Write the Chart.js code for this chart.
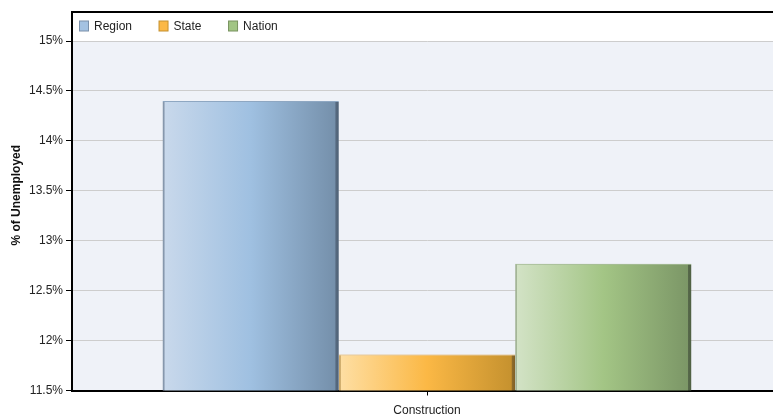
<!DOCTYPE html>
<html>
<head>
<meta charset="utf-8">
<script src="https://cdn.jsdelivr.net/npm/chart.js@4/dist/chart.umd.min.js"></script>
<style>
  html, body { margin: 0; padding: 0; overflow: hidden; background: #fff; }
  canvas { display: block; }
</style>
</head>
<body>
<canvas id="chart" width="782" height="415"></canvas>
<script>
// ---- data ----
const categories = ['Construction'];
const seriesNames = ['Region', 'State', 'Nation'];
const regionValues = [14.4];
const stateValues = [11.86];
const nationValues = [12.77];
const yTickValues = [11.5, 12, 12.5, 13, 13.5, 14, 14.5, 15];
const yAxisTitle = '% of Unemployed';

// ---- styles ----
const SANS = "'Liberation Sans', Arial, sans-serif";
const TEXT = '#222222';
const CAT_PCT = 0.745;

// horizontal shading for each series (edge, light, mid, dark, edge)
const regionStops = [[0, '#7f90a5'], [0.01, '#8c9db2'], [0.013, '#c8d8eb'], [0.5, '#9fc0e1'], [0.978, '#7590ab'], [0.983, '#56697f'], [1, '#4f6277']];
const stateStops  = [[0, '#c9a66a'], [0.01, '#d2b070'], [0.013, '#fedea2'], [0.5, '#fbb845'], [0.978, '#c6922f'], [0.983, '#8e6c2c'], [1, '#806028']];
const nationStops = [[0, '#9aac8d'], [0.01, '#a7b99a'], [0.013, '#d2e2c5'], [0.5, '#a3c585'], [0.978, '#7c9767'], [0.983, '#56684a'], [1, '#4e6043']];
const legendFills   = ['#a4c2e2', '#fbb845', '#a2c584'];
const legendStrokes = ['#7a90aa', '#c4902e', '#78925f'];
const topEdges      = ['#8ea7c2', '#d9a24a', '#8faa78'];

function barFill(stops, flat) {
  return (ctx) => {
    const chart = ctx.chart;
    const area = chart.chartArea;
    const xs = chart.scales && chart.scales.x;
    if (ctx.type !== 'data' || !area || !xs) return flat;
    const catW = (area.right - area.left) / categories.length;
    const groupW = catW * CAT_PCT;
    const barW = groupW / chart.data.datasets.length;
    const center = xs.getPixelForValue(ctx.dataIndex);
    const left = center - groupW / 2 + ctx.datasetIndex * barW;
    const g = chart.ctx.createLinearGradient(left, 0, left + barW, 0);
    stops.forEach(([o, c]) => g.addColorStop(o, c));
    return g;
  };
}

// white framed panel with a legend strip above the plot area, plus the y-axis title
const framePlugin = {
  id: 'frame',
  beforeDraw(chart) {
    const { ctx, chartArea: a, width } = chart;
    ctx.save();
    ctx.fillStyle = '#ffffff';
    ctx.fillRect(0, 0, width, chart.height);
    ctx.fillStyle = '#eff2f8';
    ctx.fillRect(a.left, a.top, a.right - a.left, a.bottom - a.top);
    ctx.strokeStyle = '#000';
    ctx.lineWidth = 2;
    ctx.beginPath();
    ctx.moveTo(a.left - 1, 12);
    ctx.lineTo(width, 12);
    ctx.moveTo(a.left, 11);
    ctx.lineTo(a.left, a.top + 1);
    ctx.stroke();
    ctx.restore();
  },
  afterDraw(chart) {
    const { ctx, chartArea: a } = chart;
    ctx.save();
    ctx.font = '12px ' + SANS;
    ctx.textBaseline = 'middle';
    ctx.textAlign = 'left';
    let x = a.left + 7.5;
    const cy = 26;
    chart.data.datasets.forEach((ds, i) => {
      ctx.fillStyle = legendFills[i];
      ctx.fillRect(x, cy - 5, 9, 10);
      ctx.strokeStyle = legendStrokes[i];
      ctx.lineWidth = 1;
      ctx.strokeRect(x, cy - 5, 9, 10);
      ctx.fillStyle = TEXT;
      ctx.fillText(ds.label, x + 14.5, cy + 0.5);
      x += 14.5 + ctx.measureText(ds.label).width + 27;
    });
    // rotated y-axis title, centred on the panel height
    ctx.translate(17, a.bottom / 2);
    ctx.rotate(-Math.PI / 2);
    ctx.textAlign = 'center';
    ctx.font = 'bold 12px ' + SANS;
    ctx.fillStyle = '#111';
    ctx.fillText(yAxisTitle, 0, 0);
    ctx.restore();
  }
};

const seriesValues = [regionValues, stateValues, nationValues];
const seriesStops = [regionStops, stateStops, nationStops];

new Chart(document.getElementById('chart'), {
  type: 'bar',
  data: {
    labels: categories,
    datasets: seriesNames.map((name, i) => ({
      label: name,
      data: seriesValues[i],
      backgroundColor: barFill(seriesStops[i], legendFills[i]),
      borderColor: topEdges[i],
      borderWidth: { top: 1, left: 0, right: 0, bottom: 0 },
      categoryPercentage: CAT_PCT,
      barPercentage: 1.0
    }))
  },
  options: {
    responsive: false,
    animation: false,
    layout: { padding: { top: 41, right: 0, bottom: 0, left: 0 } },
    plugins: {
      legend: { display: false },
      tooltip: { enabled: false }
    },
    scales: {
      x: {
        afterFit: (s) => { s.height = 24.5; },
        grid: {
          offset: false,
          drawOnChartArea: false,
          drawTicks: true,
          tickLength: 5,
          tickColor: '#000'
        },
        border: { color: '#000', width: 2 },
        ticks: { color: TEXT, font: { family: SANS, size: 12 }, padding: 8, maxRotation: 0 }
      },
      y: {
        min: 11.5,
        max: 15,
        afterFit: (s) => { s.width = 72; },
        afterBuildTicks: (s) => { s.ticks = yTickValues.map(v => ({ value: v })); },
        grid: {
          color: '#cdcdcd',
          lineWidth: 1,
          drawTicks: true,
          tickLength: 6,
          tickColor: '#000'
        },
        border: { color: '#000', width: 2 },
        ticks: {
          color: TEXT,
          font: { family: SANS, size: 12 },
          padding: 3,
          callback: (v) => v + '%'
        },
        title: { display: false }
      }
    }
  },
  plugins: [framePlugin]
});
</script>
</body>
</html>
